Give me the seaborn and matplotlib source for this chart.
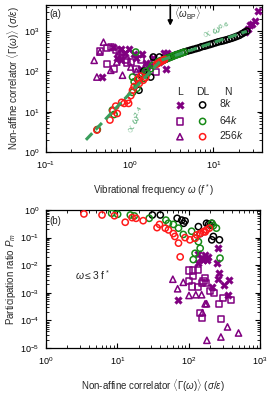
import matplotlib
matplotlib.use("Agg")
import matplotlib.pyplot as plt
import seaborn as sns

sns.set_theme(style="ticks")
plt.rcParams["font.family"] = ["Liberation Sans", "DejaVu Sans"]
plt.rcParams["mathtext.fontset"] = "custom"
plt.rcParams["mathtext.rm"] = "Liberation Sans"
plt.rcParams["mathtext.it"] = "Liberation Sans:italic"
plt.rcParams["mathtext.bf"] = "Liberation Sans:bold"

PURPLE = "#800080"
GREEN = "#178a17"
FITGREEN = "#3a9e5c"
RED = "#ff1a1a"

# ── panel (a): <Gamma(omega)> vs omega ─────────────────────
# L, N = 8k (crosses)
a_L8_w = [0.47, 0.63, 0.70, 0.78, 0.78, 0.87, 0.98, 1.12, 1.20, 1.35, 1.42, 1.55,
          1.78, 1.88, 2.23, 2.55, 2.68, 2.80, 24.0, 26.0, 27.5, 29.0, 31.5, 34.5]
a_L8_g = [72, 390, 210, 360, 187, 290, 360, 275, 210, 116, 275, 165,
          140, 210, 170, 280, 116, 284, 950, 1150, 1370, 1500, 1800, 3100]
# L, N = 64k (squares)
a_L64_w = [0.44, 0.53, 0.53, 0.60, 0.65, 0.68, 0.74, 0.77, 0.83, 0.90, 0.92,
           1.03, 1.18, 1.35, 1.62, 2.04]
a_L64_g = [317, 384, 155, 400, 116, 330, 220, 310, 250, 187, 165,
           170, 116, 187, 127, 96]
# L, N = 256k (triangles)
a_L256_w = [0.376, 0.405, 0.44, 0.486, 0.594, 0.70, 0.82, 1.03, 1.20, 1.60]
a_L256_g = [187, 72, 300, 527, 106, 170, 80, 128, 100, 115]

# DL, N = 8k (black circles): scattered low-omega modes + dense high-omega branch
a_DL8_w = [1.25, 1.29, 1.47, 1.78, 1.91, 2.26,
           2.5, 2.7, 2.9, 3.1, 3.3, 3.6, 3.9, 4.2, 4.5, 4.9, 5.3, 5.7, 6.2, 6.7,
           7.2, 7.8, 8.4, 9.1, 9.8, 10.6, 11.4, 12.3, 13.2, 14.2, 15.3, 16.5,
           17.7, 19.0, 20.4, 21.9, 23.4, 25.0]
a_DL8_g = [62, 34, 100, 72, 226, 226,
           185, 200, 215, 228, 240, 258, 272, 288, 302, 318, 333, 348, 365, 382,
           405, 420, 440, 462, 485, 510, 535, 555, 575, 600, 628, 660,
           695, 735, 780, 850, 920, 990]
# DL, N = 64k (green circles)
a_DL64_w = [0.41, 0.62, 0.65, 1.08, 1.08, 1.13, 1.18, 1.22, 1.30, 1.48, 1.55, 1.62,
            1.78, 1.88, 2.2, 2.35, 2.5, 2.65, 2.8, 3.0, 3.2, 3.4, 3.6, 3.9, 4.2, 4.5]
a_DL64_g = [3.6, 10.9, 8.5, 30, 72, 55, 300, 38, 65, 66, 100, 88,
            116, 140, 175, 185, 190, 200, 210, 220, 232, 245, 255, 270, 285, 300]
# DL, N = 256k (red circles)
a_DL256_w = [0.405, 0.58, 0.63, 0.68, 0.71, 0.80, 0.86, 0.94, 0.97, 1.03, 1.08,
             1.13, 1.25, 1.30, 1.35, 1.45, 1.55, 2.1, 2.2, 2.3, 2.4, 2.5, 2.6]
a_DL256_g = [3.5, 6.2, 10.5, 13.7, 9, 17, 16, 19, 16, 25, 34,
             42, 65, 50, 76, 60, 70, 150, 160, 170, 180, 188, 195]

# dashed power-law guides (end points)
fit_lo_w = [0.30, 2.5]
fit_lo_g = [2.0, 210]
fit_hi_w = [2.4, 25.0]
fit_hi_g = [190, 980]
omega_bp = 3.05

# ── panel (b): P_m vs <Gamma(omega)> for omega <= 3 f* ─────
b_L8_g = [261, 137, 170, 189, 147, 178, 161, 137, 248, 270, 261, 313, 373,
          211, 361, 72]
b_L8_p = [0.043, 0.025, 0.024, 0.020, 0.018, 0.016, 0.016, 0.012, 0.012, 5.2e-3,
          3.1e-3, 1.96e-3, 3.0e-3, 1.6e-3, 8.5e-4, 5.3e-4]
b_L64_g = [102, 116, 134, 114, 102, 110, 134, 161, 170, 152, 175, 200, 227,
           267, 300, 390, 152, 285, 145]
b_L64_p = [6.4e-3, 6.4e-3, 6.8e-3, 4.1e-3, 2.6e-3, 1.7e-3, 1.6e-3, 2.6e-3, 3.4e-3,
           2.2e-3, 2.2e-3, 1.2e-3, 9.8e-4, 3.9e-4, 6.4e-4, 5.6e-4, 1.2e-4,
           1.15e-4, 1.8e-4]
b_L256_g = [60, 84, 70, 101, 126, 152, 170, 178, 156, 350, 283, 500, 180]
b_L256_p = [3.1e-3, 2.4e-3, 1.4e-3, 8e-4, 8.5e-4, 8.5e-4, 4e-4, 4e-4, 1.9e-4,
            5.8e-5, 2.5e-5, 3.5e-5, 1.9e-5]
b_DL8_g = [31, 40, 69, 80, 89, 85, 137, 178, 190, 200, 211, 222, 211, 270, 145]
b_DL8_p = [0.66, 0.66, 0.50, 0.43, 0.40, 0.33, 0.25, 0.33, 0.30, 0.28, 0.33,
           0.11, 0.083, 0.083, 0.14]
b_DL64_g = [8.3, 10.1, 15.2, 17.3, 28, 48, 52, 61, 72, 84, 110, 123, 137, 211,
            222, 245, 145, 123, 275, 116]
b_DL64_p = [0.76, 0.70, 0.66, 0.61, 0.50, 0.43, 0.33, 0.30, 0.22, 0.13, 0.17,
            0.095, 0.071, 0.33, 0.27, 0.22, 0.041, 0.027, 0.018, 0.016]
b_DL256_g = [3.4, 6.1, 9.1, 12.9, 16.1, 18.3, 23, 36, 39, 47, 52, 61, 64, 72, 76,
             89, 104, 123, 130, 145, 161, 170, 178, 195]
b_DL256_p = [0.72, 0.66, 0.62, 0.36, 0.53, 0.50, 0.41, 0.23, 0.30, 0.22, 0.19,
             0.14, 0.11, 0.063, 0.020, 0.10, 0.083, 0.095, 0.125, 0.14, 0.165,
             0.16, 0.19, 0.22]

SIZE = 20
XSIZE = 30
LW = 1.1


def draw_sets(ax, sets):
    for x, y, mk, col in sets:
        if mk == "X":
            sns.scatterplot(x=x, y=y, ax=ax, marker="X", color=col, s=XSIZE,
                            linewidth=0.3, edgecolor=col, zorder=3)
        else:
            sns.scatterplot(x=x, y=y, ax=ax, marker=mk, s=SIZE, facecolor="none",
                            edgecolor=col, linewidth=LW, zorder=3)


def style_axes(ax):
    ax.set_xscale("log")
    ax.set_yscale("log")
    ax.tick_params(which="both", direction="in", top=True, right=True,
                   labelsize=6.5, colors="black")
    ax.tick_params(axis="x", which="major", pad=5)
    ax.tick_params(axis="y", which="major", pad=5)
    ax.tick_params(which="major", length=3.5, width=0.8)
    ax.tick_params(which="minor", length=2, width=0.6)
    for sp in ax.spines.values():
        sp.set_linewidth(0.9)
        sp.set_color("black")


fig = plt.figure(figsize=(2.68, 3.97), dpi=100)
ax1 = fig.add_axes([46 / 268, 1 - 152 / 397, 216 / 268, 147 / 397])
ax2 = fig.add_axes([46 / 268, 1 - 348 / 397, 214 / 268, 138 / 397])

# ── (a) ───────────────────────────────────────────────────
draw_sets(ax1, [
    (a_L256_w, a_L256_g, "^", PURPLE),
    (a_L64_w, a_L64_g, "s", PURPLE),
    (a_L8_w, a_L8_g, "X", PURPLE),
    (a_DL8_w, a_DL8_g, "o", "black"),
    (a_DL64_w, a_DL64_g, "o", GREEN),
    (a_DL256_w, a_DL256_g, "o", RED),
])
ax1.plot(fit_lo_w, fit_lo_g, ls=(0, (3, 1.6)), color=FITGREEN, lw=2.2, zorder=4)
ax1.plot(fit_hi_w, fit_hi_g, ls=(0, (3, 1.6)), color=FITGREEN, lw=2.2, zorder=4)
style_axes(ax1)
ax1.set_xlim(0.1, 38)
ax1.set_ylim(1, 4400)
ax1.set_xlabel(r"Vibrational frequency $\omega$ ($f^*$)", fontsize=7, labelpad=8)
ax1.set_ylabel(r"Non-affine correlator $\langle\Gamma(\omega)\rangle$ $(\sigma/\varepsilon)$",
               fontsize=7, labelpad=1)
ax1.text(0.015, 0.975, "(a)", transform=ax1.transAxes, fontsize=7, va="top")
ax1.annotate("", xy=(omega_bp, 1350), xytext=(omega_bp, 4400),
             arrowprops=dict(arrowstyle="-|>", color="black", lw=1.2,
                             mutation_scale=7, shrinkA=0, shrinkB=0))
ax1.text(omega_bp * 1.12, 2700, r"$\langle\omega_{\rm BP}\rangle$", fontsize=7,
         va="center")
ax1.text(7.0, 560, r"$\propto\,\omega^{0.6}$", color=FITGREEN, fontsize=6.5,
         rotation=20, ha="left", va="bottom")
ax1.text(1.17, 6.3, r"$\propto\,\omega^{2.4}$", color=FITGREEN, fontsize=6.5,
         rotation=62, ha="center", va="center")

# hand-made key: L / DL / N table
key_rows = [0.32, 0.208, 0.104]
for y, mk in zip(key_rows, ["X", "s", "^"]):
    ax1.scatter([0.62], [y], transform=ax1.transAxes, marker=mk,
                s=XSIZE if mk == "X" else SIZE,
                facecolor=PURPLE if mk == "X" else "none",
                edgecolor=PURPLE, linewidth=LW if mk != "X" else 0.3, clip_on=False)
for y, col in zip(key_rows, ["black", GREEN, RED]):
    ax1.scatter([0.725], [y], transform=ax1.transAxes, marker="o", s=SIZE,
                facecolor="none", edgecolor=col, linewidth=LW, clip_on=False)
for y, lab in zip(key_rows, [r"8$k$", r"64$k$", r"256$k$"]):
    ax1.text(0.80, y + 0.01, lab, transform=ax1.transAxes, fontsize=7.5,
             va="center", ha="left")
for x, lab in zip([0.62, 0.725, 0.84], ["L", "DL", "N"]):
    ax1.text(x, 0.405, lab, transform=ax1.transAxes, fontsize=7.5,
             va="center", ha="center")

# ── (b) ───────────────────────────────────────────────────
draw_sets(ax2, [
    (b_L256_g, b_L256_p, "^", PURPLE),
    (b_L64_g, b_L64_p, "s", PURPLE),
    (b_L8_g, b_L8_p, "X", PURPLE),
    (b_DL8_g, b_DL8_p, "o", "black"),
    (b_DL64_g, b_DL64_p, "o", GREEN),
    (b_DL256_g, b_DL256_p, "o", RED),
])
style_axes(ax2)
ax2.set_xlim(1, 1000)
ax2.set_ylim(1e-5, 1)
ax2.set_xlabel(r"Non-affine correlator $\langle\Gamma(\omega)\rangle$ $(\sigma/\varepsilon)$",
               fontsize=7, labelpad=8)
ax2.set_ylabel(r"Participation ratio $P_m$", fontsize=7, labelpad=1)
ax2.text(0.015, 0.96, "(b)", transform=ax2.transAxes, fontsize=7, va="top")
ax2.text(0.135, 0.53, r"$\omega \leq 3$ f$^*$", transform=ax2.transAxes,
         fontsize=7.5, va="center")

fig.savefig("out.png", dpi=100)
